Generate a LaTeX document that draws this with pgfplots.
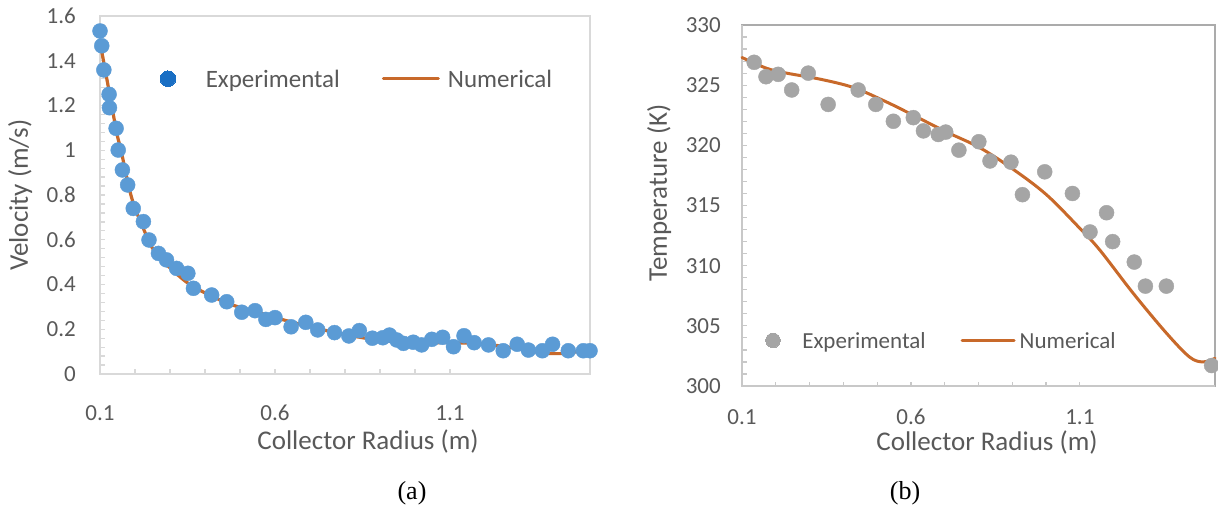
\documentclass[border=0pt]{standalone}
\usepackage{fontspec}
\setmainfont{Carlito}
\newfontfamily\capfont{Liberation Serif}
\usepackage{pgfplots}
\pgfplotsset{compat=1.18}

\definecolor{expblue}{HTML}{5B9BD5}
\definecolor{legblue}{HTML}{1A6FC4}
\definecolor{numorange}{HTML}{C8692A}
\definecolor{expgray}{HTML}{A5A5A5}
\definecolor{txt}{HTML}{595959}
\definecolor{frameA}{HTML}{D9D9D9}
\definecolor{frameB}{HTML}{C8C8C8}
\definecolor{frameC}{HTML}{ABABAB}

\pgfplotsset{
  excel/.style={
    scale only axis, clip=false,
    xmin=0.1, xmax=1.5,
    xtick={0.1,0.6,1.1},
    xticklabels={0.1,0.6,1.1},
    minor x tick num=4,
    tick pos=left,
    tick align=inside,
    major tick length=5pt, minor tick length=5pt,
    /pgf/number format/assume math mode=true,
    ticklabel style={font=\fontsize{23}{23}\selectfont, text=txt, inner sep=0pt},
    label style={font=\fontsize{27}{27}\selectfont, text=txt, inner sep=0pt},
  },
}

\begin{document}
\begin{tikzpicture}
\useasboundingbox (0,0) rectangle (1218pt,504pt);

% (a) velocity along the collector radius
\begin{axis}[excel,
  at={(100pt,130pt)}, anchor=south west,
  width=490pt, height=358pt,
  ymin=0, ymax=1.6,
  ytick={0,0.2,0.4,0.6,0.8,1,1.2,1.4,1.6},
  yticklabels={0,0.2,0.4,0.6,0.8,1,1.2,1.4,1.6},
  minor y tick num=4,
  axis line style={draw=frameA, line width=1.2pt},
  tick style={draw=frameA, line width=1.3pt},
  minor tick style={draw=frameA, line width=1.3pt},
  yticklabel style={anchor=east, xshift=-24pt},
  xticklabel style={anchor=base, yshift=-46pt},
  xlabel={Collector Radius (m)},
  xlabel style={at={(axis description cs:0.547,-0.2095)}, anchor=base},
  ylabel={Velocity (m/s)},
  ylabel style={at={(axis description cs:-0.147,0.5)}, anchor=base, rotate=0},
  legend columns=2,
  legend style={draw=none, fill=none, inner sep=0pt,
    at={(axis description cs:0.1224,0.822)}, anchor=west,
    nodes={inner sep=0pt, text=txt, font=\fontsize{25}{25}\selectfont},
    /tikz/column 1/.style={column sep=30pt},
    /tikz/column 2/.style={column sep=42pt},
    /tikz/column 3/.style={column sep=8pt}},
]
\draw[frameA, line width=2.4pt] (rel axis cs:0,1) -- (rel axis cs:0,0) -- (rel axis cs:1,0);
\addplot[only marks, mark=*, mark size=7.5pt, color=expblue,
  mark options={draw=expblue, fill=expblue},
  legend image code/.code={\path[draw=legblue, fill=legblue, line width=0pt] (8pt,1pt) circle (7.8pt);}]
coordinates {
(0.100,1.533) (0.105,1.467) (0.111,1.359) (0.126,1.250) (0.127,1.190)
(0.146,1.098) (0.152,1.001) (0.164,0.912) (0.179,0.845) (0.195,0.740)
(0.224,0.681) (0.240,0.599) (0.267,0.539) (0.290,0.510) (0.319,0.472)
(0.351,0.450) (0.367,0.383) (0.419,0.353) (0.462,0.323) (0.505,0.276)
(0.543,0.283) (0.574,0.244) (0.600,0.252) (0.646,0.211) (0.688,0.231)
(0.722,0.197) (0.770,0.185) (0.811,0.170) (0.841,0.194) (0.878,0.160)
(0.908,0.162) (0.927,0.174) (0.948,0.152) (0.967,0.137) (0.995,0.142)
(1.019,0.130) (1.048,0.155) (1.079,0.164) (1.110,0.122) (1.140,0.171)
(1.169,0.140) (1.210,0.130) (1.252,0.104) (1.292,0.133) (1.324,0.107)
(1.364,0.104) (1.393,0.133) (1.438,0.104) (1.481,0.104) (1.500,0.104)
};
\addlegendentry{Experimental}
\addplot[numorange, line width=3.2pt, line cap=round, smooth, tension=0.55,
  legend image code/.code={\draw[numorange, line width=3pt] (0pt,1pt) -- (55pt,1pt);}]
coordinates {
(0.102,1.467) (0.130,1.230) (0.148,1.076) (0.160,1.000) (0.190,0.790)
(0.224,0.650) (0.257,0.545) (0.310,0.460) (0.367,0.390) (0.462,0.318)
(0.530,0.285) (0.576,0.264) (0.624,0.242) (0.719,0.204) (0.814,0.172)
(0.909,0.149) (1.005,0.140) (1.100,0.140) (1.195,0.134) (1.290,0.115)
(1.367,0.094) (1.433,0.092) (1.471,0.105) (1.500,0.130)
};
\addlegendentry{Numerical}
\end{axis}

% (b) air temperature along the collector radius
\begin{axis}[excel,
  at={(742pt,118pt)}, anchor=south west,
  width=473pt, height=361pt,
  ymin=300, ymax=330,
  ytick={300,305,310,315,320,325,330},
  yticklabels={300,305,310,315,320,325,330},
  minor y tick num=4,
  axis line style={draw=frameC, line width=1.3pt},
  tick style={draw=frameB, line width=1.2pt},
  minor tick style={draw=frameB, line width=1.2pt},
  major tick length=4.5pt, minor tick length=4.5pt,
  yticklabel style={anchor=east, xshift=-21pt},
  xticklabel style={anchor=base, yshift=-38pt},
  xlabel={Collector Radius (m)},
  xlabel style={at={(axis description cs:0.518,-0.178)}, anchor=base},
  ylabel={Temperature (K)},
  ylabel style={at={(axis description cs:-0.1586,0.535)}, anchor=base},
  legend columns=2,
  legend style={draw=none, fill=none, inner sep=0pt,
    at={(axis description cs:0.0497,0.125)}, anchor=west,
    nodes={inner sep=0pt, text=txt, font=\fontsize{23}{23}\selectfont},
    /tikz/column 1/.style={column sep=22pt},
    /tikz/column 2/.style={column sep=35pt},
    /tikz/column 3/.style={column sep=4pt}},
]
\draw[frameB, line width=2.3pt] (rel axis cs:0,1) -- (rel axis cs:0,0) -- (rel axis cs:1,0);
\addplot[only marks, mark=*, mark size=7.5pt, color=expgray,
  mark options={draw=expgray, fill=expgray},
  legend image code/.code={\path[draw=expgray, fill=expgray, line width=0pt] (7.5pt,0.5pt) circle (7.3pt);}]
coordinates {
(0.136,326.9) (0.171,325.7) (0.207,325.9) (0.247,324.6) (0.296,326.0)
(0.355,323.4) (0.444,324.6) (0.496,323.4) (0.548,322.0) (0.607,322.3)
(0.637,321.2) (0.681,320.9) (0.703,321.1) (0.742,319.6) (0.801,320.3)
(0.834,318.7) (0.896,318.6) (0.930,315.9) (0.996,317.8) (1.078,316.0)
(1.130,312.8) (1.179,314.4) (1.197,312.0) (1.261,310.3) (1.294,308.3)
(1.356,308.3) (1.490,301.7)
};
\addlegendentry{Experimental}
\addplot[numorange, line width=3pt, line cap=round, smooth, tension=0.55,
  legend image code/.code={\draw[numorange, line width=3pt] (0pt,0.5pt) -- (52pt,0.5pt);}]
coordinates {
(0.100,327.3) (0.173,326.4) (0.232,326.0) (0.331,325.5) (0.430,324.8)
(0.528,323.6) (0.607,322.5) (0.706,321.1) (0.804,319.8) (0.903,318.0)
(1.001,315.9) (1.100,313.1) (1.159,311.3) (1.258,307.7) (1.356,304.4)
(1.425,302.4) (1.465,302.0) (1.500,302.3)
};
\addlegendentry{Numerical}
\end{axis}

\node[font=\capfont\fontsize{26}{26}\selectfont, anchor=base, inner sep=0pt] at (412pt,5pt) {(a)};
\node[font=\capfont\fontsize{26}{26}\selectfont, anchor=base, inner sep=0pt] at (905pt,5pt) {(b)};
\end{tikzpicture}
\end{document}
